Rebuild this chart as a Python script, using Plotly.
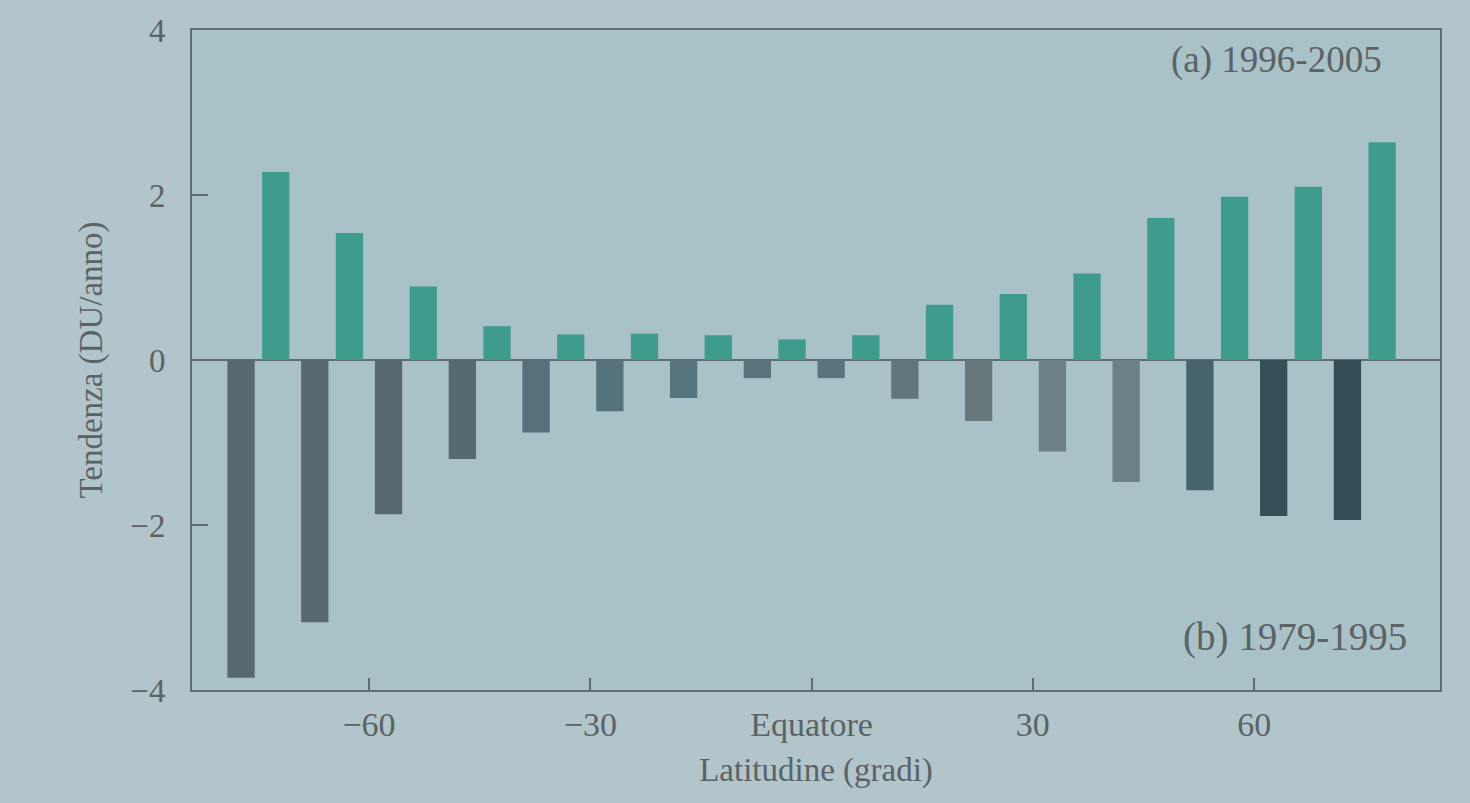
import plotly.graph_objects as go

# Latitude band centres (degrees)
lat = [-75, -65, -55, -45, -35, -25, -15, -5, 5, 15, 25, 35, 45, 55, 65, 75]

# Ozone column trend, DU/anno
trend_1996_2005 = [2.28, 1.54, 0.89, 0.41, 0.31, 0.32, 0.30, 0.25,
                   0.30, 0.67, 0.80, 1.05, 1.72, 1.98, 2.10, 2.64]
trend_1979_1995 = [-3.85, -3.18, -1.87, -1.20, -0.88, -0.62, -0.46, -0.22,
                   -0.22, -0.47, -0.74, -1.11, -1.48, -1.58, -1.89, -1.94]

x_tick_vals = [-60, -30, 0, 30, 60]
x_tick_text = ["\u221260", "\u221230", "Equatore", "30", "60"]
y_tick_vals = [-4, -2, 0, 2, 4]

green = "#3f9c8c"
dark_colors = ["#58696f", "#58696f", "#56696f", "#546b71", "#55707a", "#56727a",
               "#57737b", "#5a747b", "#5a747b", "#5f777d", "#67797d", "#6c8286",
               "#6a8185", "#46646a", "#354f57", "#334b53"]
text_color = "#5b6366"
line_color = "#5f6e73"
font_family = "Liberation Serif, DejaVu Serif, serif"

fig = go.Figure()

fig.add_trace(go.Bar(
    x=lat, y=trend_1979_1995, offset=-4.2, width=3.7,
    marker=dict(color=dark_colors, line=dict(width=0)),
    name="(b) 1979-1995", showlegend=False,
))
fig.add_trace(go.Bar(
    x=lat, y=trend_1996_2005, offset=0.5, width=3.7,
    marker=dict(color=green, line=dict(width=0)),
    name="(a) 1996-2005", showlegend=False,
))

fig.update_layout(
    width=1470, height=803,
    margin=dict(l=192, r=30, t=30, b=113),
    paper_bgcolor="#b2c5ca",
    plot_bgcolor="#a9c2c7",
    barmode="overlay",
    font=dict(family=font_family, color=text_color, size=33),
    xaxis=dict(
        range=[-84, 85.2],
        tickmode="array", tickvals=x_tick_vals, ticktext=x_tick_text,
        ticks="inside", ticklen=12, tickwidth=2, tickcolor=line_color,
        showline=True, linecolor=line_color, linewidth=2, mirror=True,
        showgrid=False, zeroline=False,
        tickfont=dict(size=34, color=text_color),
        ticklabelstandoff=3,
        title=dict(text="Latitudine (gradi)", font=dict(size=33, color=text_color),
                   standoff=16),
    ),
    yaxis=dict(
        range=[-4, 4],
        tickmode="array", tickvals=y_tick_vals,
        ticks="inside", ticklen=16, tickwidth=2, tickcolor=line_color,
        showline=True, linecolor=line_color, linewidth=2, mirror=True,
        showgrid=False,
        zeroline=True, zerolinecolor=line_color, zerolinewidth=2,
        tickfont=dict(size=33, color=text_color),
        ticklabelstandoff=18,
        title=dict(text="Tendenza (DU/anno)", font=dict(size=33, color=text_color),
                   standoff=18),
    ),
    annotations=[
        dict(text="(a) 1996-2005", x=0.955, y=0.955, xref="paper", yref="paper",
             xanchor="right", yanchor="middle", showarrow=False,
             font=dict(size=37, color=text_color)),
        dict(text="(b) 1979-1995", x=0.975, y=0.08, xref="paper", yref="paper",
             xanchor="right", yanchor="middle", showarrow=False,
             font=dict(size=39, color=text_color)),
    ],
)

fig.write_html("out.html")
